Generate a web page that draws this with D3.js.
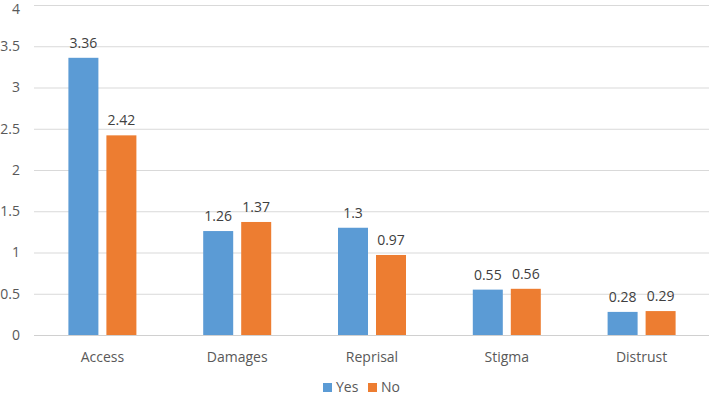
<!DOCTYPE html>
<html><head><meta charset="utf-8">
<script src="https://cdn.jsdelivr.net/npm/d3@7"></script>
<style>body{margin:0;background:#fff}svg{display:block;font-family:"Open Sans","Noto Sans",sans-serif}</style>
</head><body><svg id="c" width="709" height="397"></svg>
<script>
const categories = ["Access","Damages","Reprisal","Stigma","Distrust"];
const yesValues = [3.36,1.26,1.3,0.55,0.28];
const noValues = [2.42,1.37,0.97,0.56,0.29];
const yesLabels = ["3.36","1.26","1.3","0.55","0.28"];
const noLabels = ["2.42","1.37","0.97","0.56","0.29"];
const yTicks = [0,0.5,1,1.5,2,2.5,3,3.5,4];
const seriesNames = ["Yes","No"];
const colors = ["#5B9BD5","#ED7D31"];

const svg = d3.select("#c");
const x = d3.scaleBand().domain(categories).range([35,709]);
const y = d3.scaleLinear().domain([0,4]).range([335,5]);
const bw = 30, gap = 8;

svg.append("g").selectAll("line").data(yTicks).join("line")
  .attr("x1",34).attr("x2",709).attr("y1",d=>y(d)+0.5).attr("y2",d=>y(d)+0.5)
  .attr("stroke",d=>d===0?"#d0d0d0":"#d9d9d9").attr("stroke-width",1);

svg.append("g").selectAll("text").data(yTicks).join("text")
  .attr("x",20).attr("y",d=>Math.max(y(d),9)).attr("dy","0.35em").attr("text-anchor","end")
  .attr("font-size",14).attr("fill","#595959").text(d=>d);

const series = [yesValues,noValues];
const labels = [yesLabels,noLabels];
series.forEach((vals,si)=>{
  const g = svg.append("g");
  const xs = c => x(c)+x.bandwidth()/2 + (si===0 ? -(bw+gap/2) : gap/2);
  g.selectAll("rect").data(categories).join("rect")
    .attr("x",c=>xs(c)).attr("width",bw)
    .attr("y",(c,i)=>y(vals[i])).attr("height",(c,i)=>y(0)-y(vals[i]))
    .attr("fill",colors[si]);
  g.selectAll("text").data(categories).join("text")
    .attr("x",c=>xs(c)+bw/2).attr("y",(c,i)=>y(vals[i])-10)
    .attr("text-anchor","middle").attr("font-size",14).attr("fill","#404040")
    .text((c,i)=>labels[si][i]);
});

svg.append("g").selectAll("text").data(categories).join("text")
  .attr("x",c=>x(c)+x.bandwidth()/2).attr("y",357).attr("dy","0.35em")
  .attr("text-anchor","middle").attr("font-size",14).attr("fill","#595959").text(c=>c);

const leg = svg.append("g");
const legX = [323,368];
seriesNames.forEach((n,i)=>{
  leg.append("rect").attr("x",legX[i]).attr("y",383).attr("width",9).attr("height",9).attr("fill",colors[i]);
  leg.append("text").attr("x",legX[i]+13).attr("y",387.5).attr("dy","0.35em")
    .attr("font-size",14).attr("fill","#595959").text(n);
});
</script></body></html>
